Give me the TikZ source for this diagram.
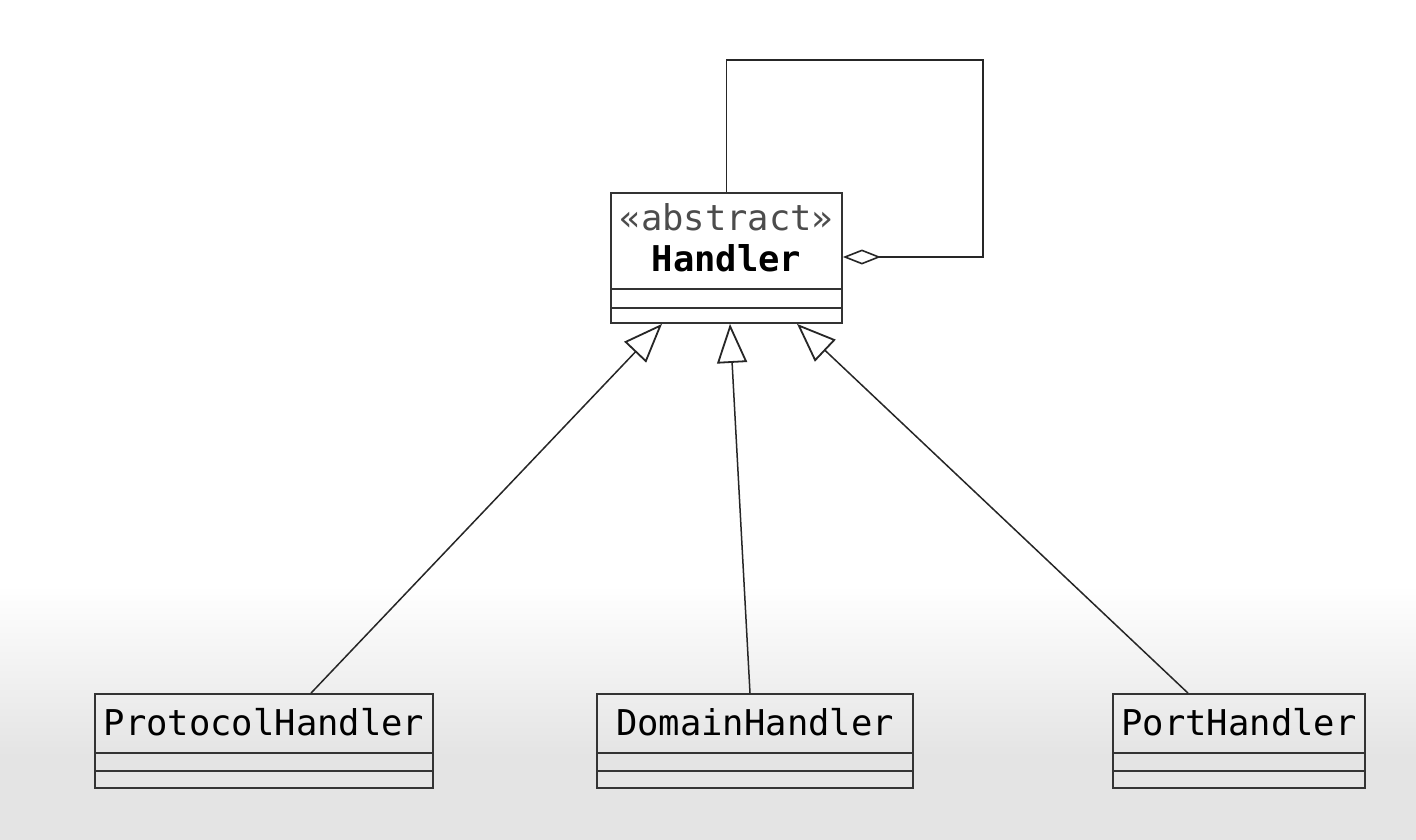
\documentclass[tikz,border=0pt]{standalone}
\usepackage{fontspec}
\setmonofont{DejaVu Sans Mono}
\usetikzlibrary{arrows.meta}
\definecolor{bgbot}{gray}{0.895}
\definecolor{linec}{gray}{0.2}
\tikzset{
  classbox/.style={draw=linec, line width=1.8pt, rectangle, inner sep=0pt},
  divider/.style={draw=linec, line width=1.6pt},
  cname/.style={font=\ttfamily\fontsize{35.5}{42}\selectfont, text=black, inner sep=0pt},
  stereo/.style={font=\ttfamily\fontsize{35.5}{42}\selectfont, text=black!70, inner sep=0pt},
  gen/.style={draw=black!85, line width=1.5pt, -{Triangle[open, length=39pt, width=30pt, fill=white, line width=1.8pt]}},
  agg/.style={draw=black!85, line width=1.6pt, -{Diamond[open, length=38pt, width=15pt, fill=white, line width=1.6pt]}}
}
\begin{document}
\begin{tikzpicture}[x=1pt,y=-1pt]
\useasboundingbox (0,0) rectangle (1416,840);
\fill[white] (0,0) rectangle (1416,840);
\shade[top color=white, bottom color=bgbot] (0,585) rectangle (1416,755);
\fill[bgbot] (0,755) rectangle (1416,840);

% Handler
\node[classbox, minimum width=231pt, minimum height=130pt] (handler) at (726.5,258) {};
\node[stereo] (hstereo) at (726.5,217) {«abstract»};
\node[cname, font=\ttfamily\bfseries\fontsize{35.5}{42}\selectfont] (hname) at (726.5,258) {Handler};
\draw[divider] ([yshift=35pt]handler.south west) -- ([yshift=35pt]handler.south east);
\draw[divider] ([yshift=16pt]handler.south west) -- ([yshift=16pt]handler.south east);

% Subclasses
\node[classbox, minimum width=338pt, minimum height=94pt] (protocol) at (264,741) {};
\node[cname] (protocoltxt) at (264,722) {ProtocolHandler};
\node[classbox, minimum width=316pt, minimum height=94pt] (domain) at (755,741) {};
\node[cname] (domaintxt) at (755,722) {DomainHandler};
\node[classbox, minimum width=252pt, minimum height=94pt] (port) at (1239,741) {};
\node[cname] (porttxt) at (1239,722) {PortHandler};

\foreach \n in {protocol,domain,port}{
  \draw[divider] ([yshift=36pt]\n.south west) -- ([yshift=36pt]\n.south east);
  \draw[divider] ([yshift=18pt]\n.south west) -- ([yshift=18pt]\n.south east);
}

% Generalizations
\draw[gen] ([xshift=47pt]protocol.north) -- ([xshift=-64.5pt]handler.south);
\draw[gen] ([xshift=-5pt]domain.north) -- ([xshift=3.5pt]handler.south);
\draw[gen] ([xshift=-51pt]port.north) -- ([xshift=70.5pt]handler.south);

% Self aggregation
\coordinate (loopA) at (726.5,60);
\coordinate (loopB) at (983,60);
\coordinate (loopC) at (983,257);
\draw[agg] (handler.north) -- (loopA) -- (loopB) -- (loopC) -- (handler.east |- loopC);
\end{tikzpicture}
\end{document}
